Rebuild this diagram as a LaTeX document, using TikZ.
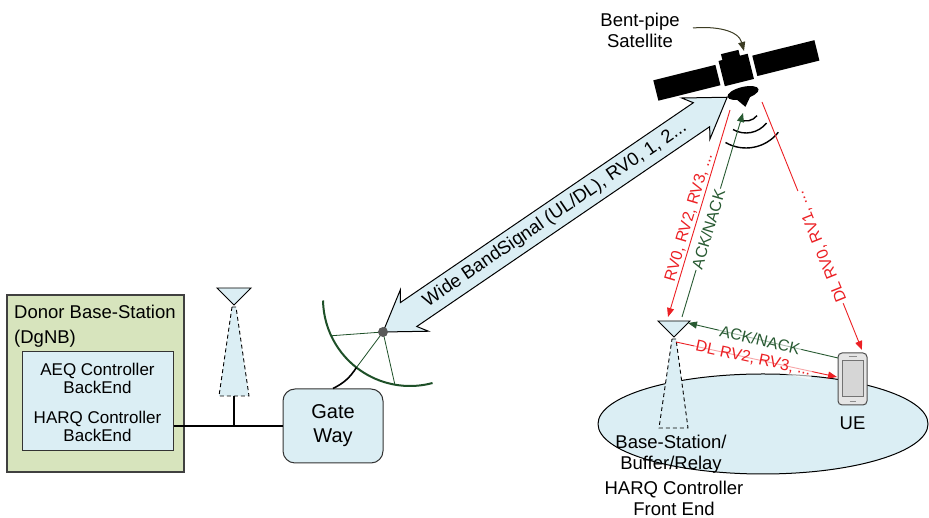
\documentclass[tikz,border=0pt]{standalone}
\usepackage{fontspec}
\setmainfont{Liberation Sans}
\usetikzlibrary{arrows.meta,positioning,calc}
\definecolor{lightblue}{RGB}{219,238,244}
\definecolor{donorgreen}{RGB}{215,228,189}
\definecolor{dishgreen}{RGB}{30,80,40}
\definecolor{ackgreen}{RGB}{40,90,50}
\definecolor{sigred}{RGB}{236,32,36}
\definecolor{pointer}{RGB}{60,60,35}

\begin{document}
\begin{tikzpicture}[x=1pt,y=1pt,
  lbl/.style={font=\fontsize{18.5}{21}\selectfont, align=center, inner sep=0pt},
  ctrltext/.style={font=\fontsize{17}{18}\selectfont, align=center, inner sep=0pt},
  sig/.style={font=\fontsize{16}{18}\selectfont, inner sep=1.5pt},
  arr/.style={-{Triangle[length=9pt,width=7pt]}},
  rarr/.style={{Triangle[length=9pt,width=7pt]}-},
  antenna/.style={draw, fill=lightblue, line width=0.9pt},
  beam/.style={draw, dash pattern=on 4pt off 3pt, fill=lightblue, line width=0.9pt}]
\useasboundingbox (0,0) rectangle (929,518);

% donor side
\draw[draw=black!75, fill=donorgreen, line width=1.2pt] (7,46) rectangle (184,223);
\node[lbl, anchor=west] (donor) at (14,206.5) {Donor Base-Station};
\node[lbl, anchor=west] (dgnb) at (14,179) {(DgNB)};
\node[draw=black!80, fill=lightblue, line width=1pt, minimum width=151pt, minimum height=99pt, inner sep=0pt] (ctrl) at (97.5,116.5) {};
\node[ctrltext] (aeq) at (97.5,139.5) {AEQ Controller\\BackEnd};
\node[ctrltext] (harq) at (97.5,92) {HARQ Controller\\BackEnd};

\node[draw=black!80, fill=lightblue, line width=1pt, rounded corners=12pt, minimum width=100pt, minimum height=74pt, font=\fontsize{20}{24}\selectfont, align=center] (gw) at (333,92) {Gate\\Way};
\draw[line width=1.2pt] (ctrl.east |- gw.west) -- (gw.west);

% mast
\coordinate (mast) at (234,213);
\coordinate (mastfoot) at (234,122);
\draw[beam] (232,211) -- (236,211) -- (249,122) -- (219,122) -- cycle;
\draw[antenna] (mast) -- (217,230) -- (251,230) -- cycle;
\draw[line width=1.2pt] (mastfoot) -- (mastfoot |- gw.west);

% dish
\coordinate (dishc) at (410,219);
\coordinate (feedpt) at (383,186);
\draw[dishgreen, line width=0.8pt] (feedpt) -- ($(dishc)+(205:87)$)
  (feedpt) -- ($(dishc)+(232:87)$) (feedpt) -- ($(dishc)+(260:87)$);
\draw[dishgreen, line width=2pt] ($(dishc)+(181:87)$) arc[start angle=181, end angle=285, radius=87];
\draw[line width=1.6pt] ($(dishc)+(232:87)$) to[bend left=15] (gw.north);

% wide band link
\begin{scope}[shift={(feedpt)}, rotate=34.3]
  \draw[fill=lightblue, line width=1pt] (0,0) -- (38,25) -- (31,14.5) -- (385.6,14.5) -- (378.6,25)
    -- (416.6,0) -- (378.6,-25) -- (385.6,-14.5) -- (31,-14.5) -- (38,-25) -- cycle;
  \node[lbl, rotate=34.3] (band) at (208.3,0) {Wide BandSignal (UL/DL), RV0, 1, 2...};
\end{scope}
\node[circle, fill=black!65, inner sep=0pt, minimum size=10pt] (feed) at (feedpt) {};

% satellite
\begin{scope}[shift={(736,449)}, rotate=14]
  \fill (-83,-12) rectangle (-19,9);
  \fill (19,-12) rectangle (83,9);
  \fill (-15,-14) rectangle (15,12);
  \fill (-11,11) rectangle (7,18);
  \fill (1,-25) ellipse (16pt and 6pt);
  \fill (-8,-28) -- (9,-28) -- (0,-39) -- cycle;
\end{scope}
\node[lbl] (sattext) at (640,488) {Bent-pipe\\Satellite};
\coordinate (ptrstart) at (693,490);
\coordinate (sattop) at (744,467);
\draw[pointer, line width=1pt, arr] (ptrstart) to[out=5, in=105] (sattop);

\coordinate (wavec) at (746,411);
\foreach \r in {14,26,41}
  \draw[line width=1.4pt] ($(wavec)+(-120:\r)$) arc[start angle=-120, end angle=-38, radius=\r];

% coverage area
\draw[fill=lightblue, line width=1pt] (763,94) ellipse (165pt and 50pt);

% relay
\coordinate (relay) at (674,181);
\draw[beam] (672,179) -- (676,179) -- (688,90) -- (659,90) -- cycle;
\draw[antenna] (relay) -- (658,197) -- (690,197) -- cycle;
\node[lbl] (relaytext) at (671,64) {Base-Station/\\Buffer/Relay};
\node[lbl] (fronttext) at (674,20) {HARQ Controller\\Front End};

% ue
\node[draw=black!70, fill=black!10, rounded corners=4pt, line width=1pt, minimum width=29pt, minimum height=52pt, inner sep=0pt] (ue) at (852.5,139) {};
\node[draw=black!55, fill=black!16, minimum width=21pt, minimum height=36pt, inner sep=0pt, line width=0.6pt] (uescreen) at (852.5,139.5) {};
\draw[black!45, line width=1pt] ($(ue.north)+(-4,-4)$) -- ($(ue.north)+(4,-4)$);
\draw[black!45, line width=1pt] ($(ue.south)+(-3,4)$) -- ($(ue.south)+(3,4)$);
\node[lbl, below=11pt of ue] (uetext) {UE};

% links
\coordinate (relayL) at (668,201);
\coordinate (satL) at (730,408);
\coordinate (relayR) at (682,201);
\coordinate (satR) at (743,405);
\coordinate (satD) at (762,416);
\coordinate (ueTop) at (862,168);
\coordinate (ueL) at (838,160);
\coordinate (relayTop) at (688,195);
\coordinate (relayTip) at (676,176);
\coordinate (ueL2) at (837,141);

\draw[sigred, line width=0.9pt, rarr] (relayL) -- node[sig, sloped, above, pos=.47, text=sigred] {RV0, RV2, RV3, ...} (satL);
\draw[ackgreen, line width=0.9pt, arr] (relayR) -- node[sig, sloped, pos=.43, fill=white, text=ackgreen] {ACK/NACK} (satR);
\draw[sigred, line width=0.9pt, rarr] (ueTop) -- node[sig, sloped, allow upside down, pos=.415, fill=white, text=sigred] {DL RV0, RV1, ...} (satD);
\draw[ackgreen, line width=0.9pt, arr] (ueL) -- node[sig, sloped, pos=.52, fill=white, fill opacity=.6, text opacity=1, text=ackgreen] {ACK/NACK} (relayTop);
\draw[sigred, line width=0.9pt, arr] (relayTip) -- node[sig, sloped, pos=.48, fill=white, fill opacity=.6, text opacity=1, text=sigred] {DL RV2, RV3, ...} (ueL2);
\end{tikzpicture}
\end{document}
